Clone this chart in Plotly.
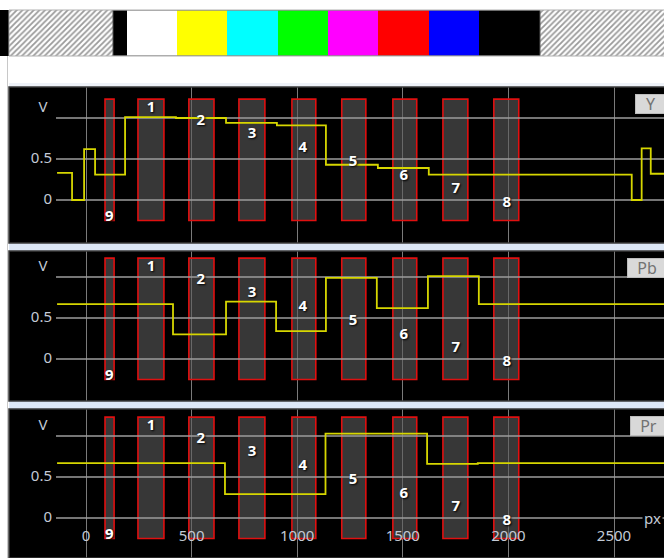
import plotly.graph_objects as go

# ---------------- data ----------------
panel_names = ["Y", "Pb", "Pr"]

y_x = [-137, -66, -9, 43, 185, 426, 663, 904, 1136, 1382, 1623, 2584, 2631, 2674, 2740]
y_v = [0.33, 0.0, 0.62, 0.31, 1.01, 1.0, 0.94, 0.91, 0.43, 0.39, 0.31, 0.0, 0.63, 0.32, 0.32]

pb_x = [-137, 412, 663, 900, 1136, 1377, 1619, 1860, 2740]
pb_v = [0.67, 0.30, 0.70, 0.34, 0.99, 0.62, 1.01, 0.67, 0.67]

pr_x = [-137, 658, 1134, 1615, 1855, 2740]
pr_v = [0.67, 0.29, 1.03, 0.66, 0.67, 0.67]

region_ids = ["1", "2", "3", "4", "5", "6", "7", "8", "9"]
region_start = [246, 487, 724, 975, 1211, 1453, 1690, 1931, 90]
region_end = [369, 606, 847, 1088, 1325, 1566, 1808, 2049, 133]
region_bottom = -0.25
region_top = 1.23

label_x = [308, 544, 786, 1027, 1264, 1505, 1751, 1992, 110]
label_y = [1.12, 0.96, 0.80, 0.63, 0.46, 0.29, 0.13, -0.04, -0.21]

x_ticks = [0, 500, 1000, 1500, 2000, 2500]
x_tick_text = ["0", "500", "1000", "1500", "2000", "2500"]
y_grid = [0, 0.5, 1.0]
y_tick_vals = [0.5, 0]
y_tick_text = ["0.5", "0"]

strip_colors = ["#000000", "#ffffff", "#ffff00", "#00ffff", "#00ff00",
                "#ff00ff", "#ff0000", "#0000ff", "#000000"]
strip_edges = [113, 127, 177, 227, 278, 328, 378, 429, 479, 540]
hatch_edges = [(9, 113), (540, 670)]

# ---------------- layout helpers ----------------
W, H = 664, 558
X0_PX, X_SCALE = 86.0, 0.2112
LEFT_PX = 9


def px2x(p):
    return (p - X0_PX) / X_SCALE


def fx(p):
    return p / W


def fy(p):
    return 1 - p / H


# panel pixel extents (top, bottom, y0 pixel)
panels = [(87, 243, 200.0), (251, 401, 359.0), (409, 558, 518.0)]
V_SCALE = 82.0
xrange = [px2x(LEFT_PX), px2x(W)]

waves = [(y_x, y_v), (pb_x, pb_v), (pr_x, pr_v)]

fig = go.Figure()

TXT = "#c3cad6"
FONT = "Noto Sans"
for i, (top, bot, y0) in enumerate(panels):
    n = "" if i == 0 else str(i + 1)
    xa, ya = "x" + n, "y" + n
    centers = [(s + e) / 2 for s, e in zip(region_start, region_end)]
    widths = [e - s for s, e in zip(region_start, region_end)]
    fig.add_trace(go.Bar(
        x=centers, width=widths, base=[region_bottom] * len(centers),
        y=[region_top - region_bottom] * len(centers),
        marker=dict(color="rgba(92,92,92,0.6)", line=dict(color="#e01010", width=1.6)),
        xaxis=xa, yaxis=ya, hoverinfo="skip", showlegend=False))
    gx, gy = [], []
    for v in y_grid:
        gx += [-142, xrange[1] + 10, None]
        gy += [v, v, None]
    fig.add_trace(go.Scatter(x=gx, y=gy, mode="lines",
                             line=dict(color="#9c9c9c", width=1.4),
                             xaxis=xa, yaxis=ya, hoverinfo="skip", showlegend=False))
    wx, wv = waves[i]
    fig.add_trace(go.Scatter(x=wx, y=wv, mode="lines", line_shape="hv",
                             line=dict(color="#d6d600", width=1.8),
                             xaxis=xa, yaxis=ya, hoverinfo="skip", showlegend=False))
    fig.add_trace(go.Scatter(x=label_x, y=label_y, mode="text", text=region_ids,
                             textposition="middle center",
                             textfont=dict(color="#ffffff", size=15, family=FONT,
                                           weight="bold", shadow="1px 1px 2px #000"),
                             xaxis=xa, yaxis=ya, hoverinfo="skip", showlegend=False,
                             cliponaxis=False))
    fig.add_trace(go.Scatter(x=[px2x(52)] * 2, y=y_tick_vals, mode="text",
                             text=y_tick_text, textposition="middle left",
                             textfont=dict(color=TXT, size=15, family=FONT),
                             xaxis=xa, yaxis=ya, hoverinfo="skip", showlegend=False,
                             cliponaxis=False))
    fig.add_trace(go.Scatter(x=[px2x(43)], y=[1.12], mode="text", text=["V"],
                             textposition="middle center",
                             textfont=dict(color=TXT, size=15, family=FONT),
                             xaxis=xa, yaxis=ya, hoverinfo="skip", showlegend=False,
                             cliponaxis=False))
    ax_common = dict(range=xrange, domain=[fx(LEFT_PX), 1], showgrid=True,
                     tickvals=x_ticks, gridcolor="#7a7a7a", gridwidth=1.4,
                     showticklabels=False, zeroline=False, showline=False, ticks="")
    yrng = [(y0 - bot) / V_SCALE, (y0 - top) / V_SCALE]
    fig.update_layout(**{
        ("xaxis" + n): dict(anchor=ya, **ax_common),
        ("yaxis" + n): dict(anchor=xa, range=yrng, domain=[max(0, fy(bot)), fy(top)],
                            showgrid=False, showticklabels=False, zeroline=False,
                            showline=False, ticks=""),
    })
    box_left = [635, 627, 630][i]
    fig.add_annotation(xref="paper", yref="paper", x=fx(box_left),
                       y=fy(top + 7), xanchor="left", yanchor="top",
                       text=panel_names[i], showarrow=False, align="center",
                       bgcolor="#d9d9d9", bordercolor="#bdbdbd", borderwidth=1,
                       borderpad=0, width=W - box_left + 1, height=18,
                       font=dict(color="#727272", size=16, family=FONT))
    fig.add_shape(type="rect", xref="paper", yref="paper",
                  x0=fx(LEFT_PX), x1=1.01, y0=max(-0.01, fy(bot)), y1=fy(top),
                  line=dict(color="#3a3a3a", width=1.5), layer="above")

fig.add_trace(go.Scatter(x=x_ticks, y=[-0.23] * len(x_ticks), mode="text", text=x_tick_text,
                         textposition="middle center",
                         textfont=dict(color=TXT, size=15, family=FONT),
                         xaxis="x3", yaxis="y3", hoverinfo="skip", showlegend=False,
                         cliponaxis=False))
fig.add_annotation(xref="x3", yref="y3", x=px2x(642), y=0, xanchor="left",
                   text="px", showarrow=False, bgcolor="#000000",
                   font=dict(color=TXT, size=15, family=FONT))

# colour strip
sc = [(a + b) / 2 for a, b in zip(strip_edges[:-1], strip_edges[1:])]
sw = [b - a for a, b in zip(strip_edges[:-1], strip_edges[1:])]
fig.add_trace(go.Bar(x=sc, width=sw, y=[1] * len(sc), base=[0] * len(sc),
                     marker=dict(color=strip_colors, line=dict(width=0)),
                     xaxis="x4", yaxis="y4", hoverinfo="skip", showlegend=False))
fig.add_trace(go.Bar(x=[(a + b) / 2 for a, b in hatch_edges],
                     width=[b - a for a, b in hatch_edges],
                     y=[1, 1], base=[0, 0],
                     marker=dict(color="#ffffff", line=dict(width=0),
                                 pattern=dict(shape="/", fgcolor="#9a9a9a", bgcolor="#ffffff",
                                              size=4, solidity=0.45, fillmode="replace")),
                     xaxis="x4", yaxis="y4", hoverinfo="skip", showlegend=False))
fig.update_layout(
    xaxis4=dict(range=[0, W], domain=[0, 1], anchor="y4", visible=False),
    yaxis4=dict(range=[0, 1], domain=[fy(56), fy(10)], anchor="x4", visible=False),
)
fig.add_shape(type="rect", xref="x4", yref="y4", x0=strip_edges[0], x1=strip_edges[-1],
              y0=0, y1=1, line=dict(color="#555555", width=1))
fig.add_shape(type="rect", xref="paper", yref="paper", x0=fx(9), x1=1.01,
              y0=fy(56), y1=fy(10), line=dict(color="#b0b0b0", width=1))

for a, b in [(243, 251), (401, 409)]:
    fig.add_shape(type="rect", xref="paper", yref="paper", x0=fx(9), x1=1.01,
                  y0=fy(b), y1=fy(a), fillcolor="#dde7f6", line=dict(width=0), layer="below")
fig.add_shape(type="rect", xref="paper", yref="paper", x0=fx(9), x1=1.01,
              y0=fy(87), y1=fy(83), fillcolor="#eef2f8", line=dict(width=0), layer="below")
fig.add_shape(type="line", xref="paper", yref="paper", x0=fx(7.5), x1=fx(7.5),
              y0=0, y1=fy(56), line=dict(color="#c8c8c8", width=1))

fig.update_layout(
    width=W, height=H, margin=dict(l=0, r=0, t=0, b=0),
    paper_bgcolor="#ffffff", plot_bgcolor="#000000",
    barmode="overlay", showlegend=False,
)

fig.write_html(
    "out.html",
    config={"displayModeBar": False},
    post_script="document.body.style.margin='0';document.body.style.overflow='hidden';",
)
